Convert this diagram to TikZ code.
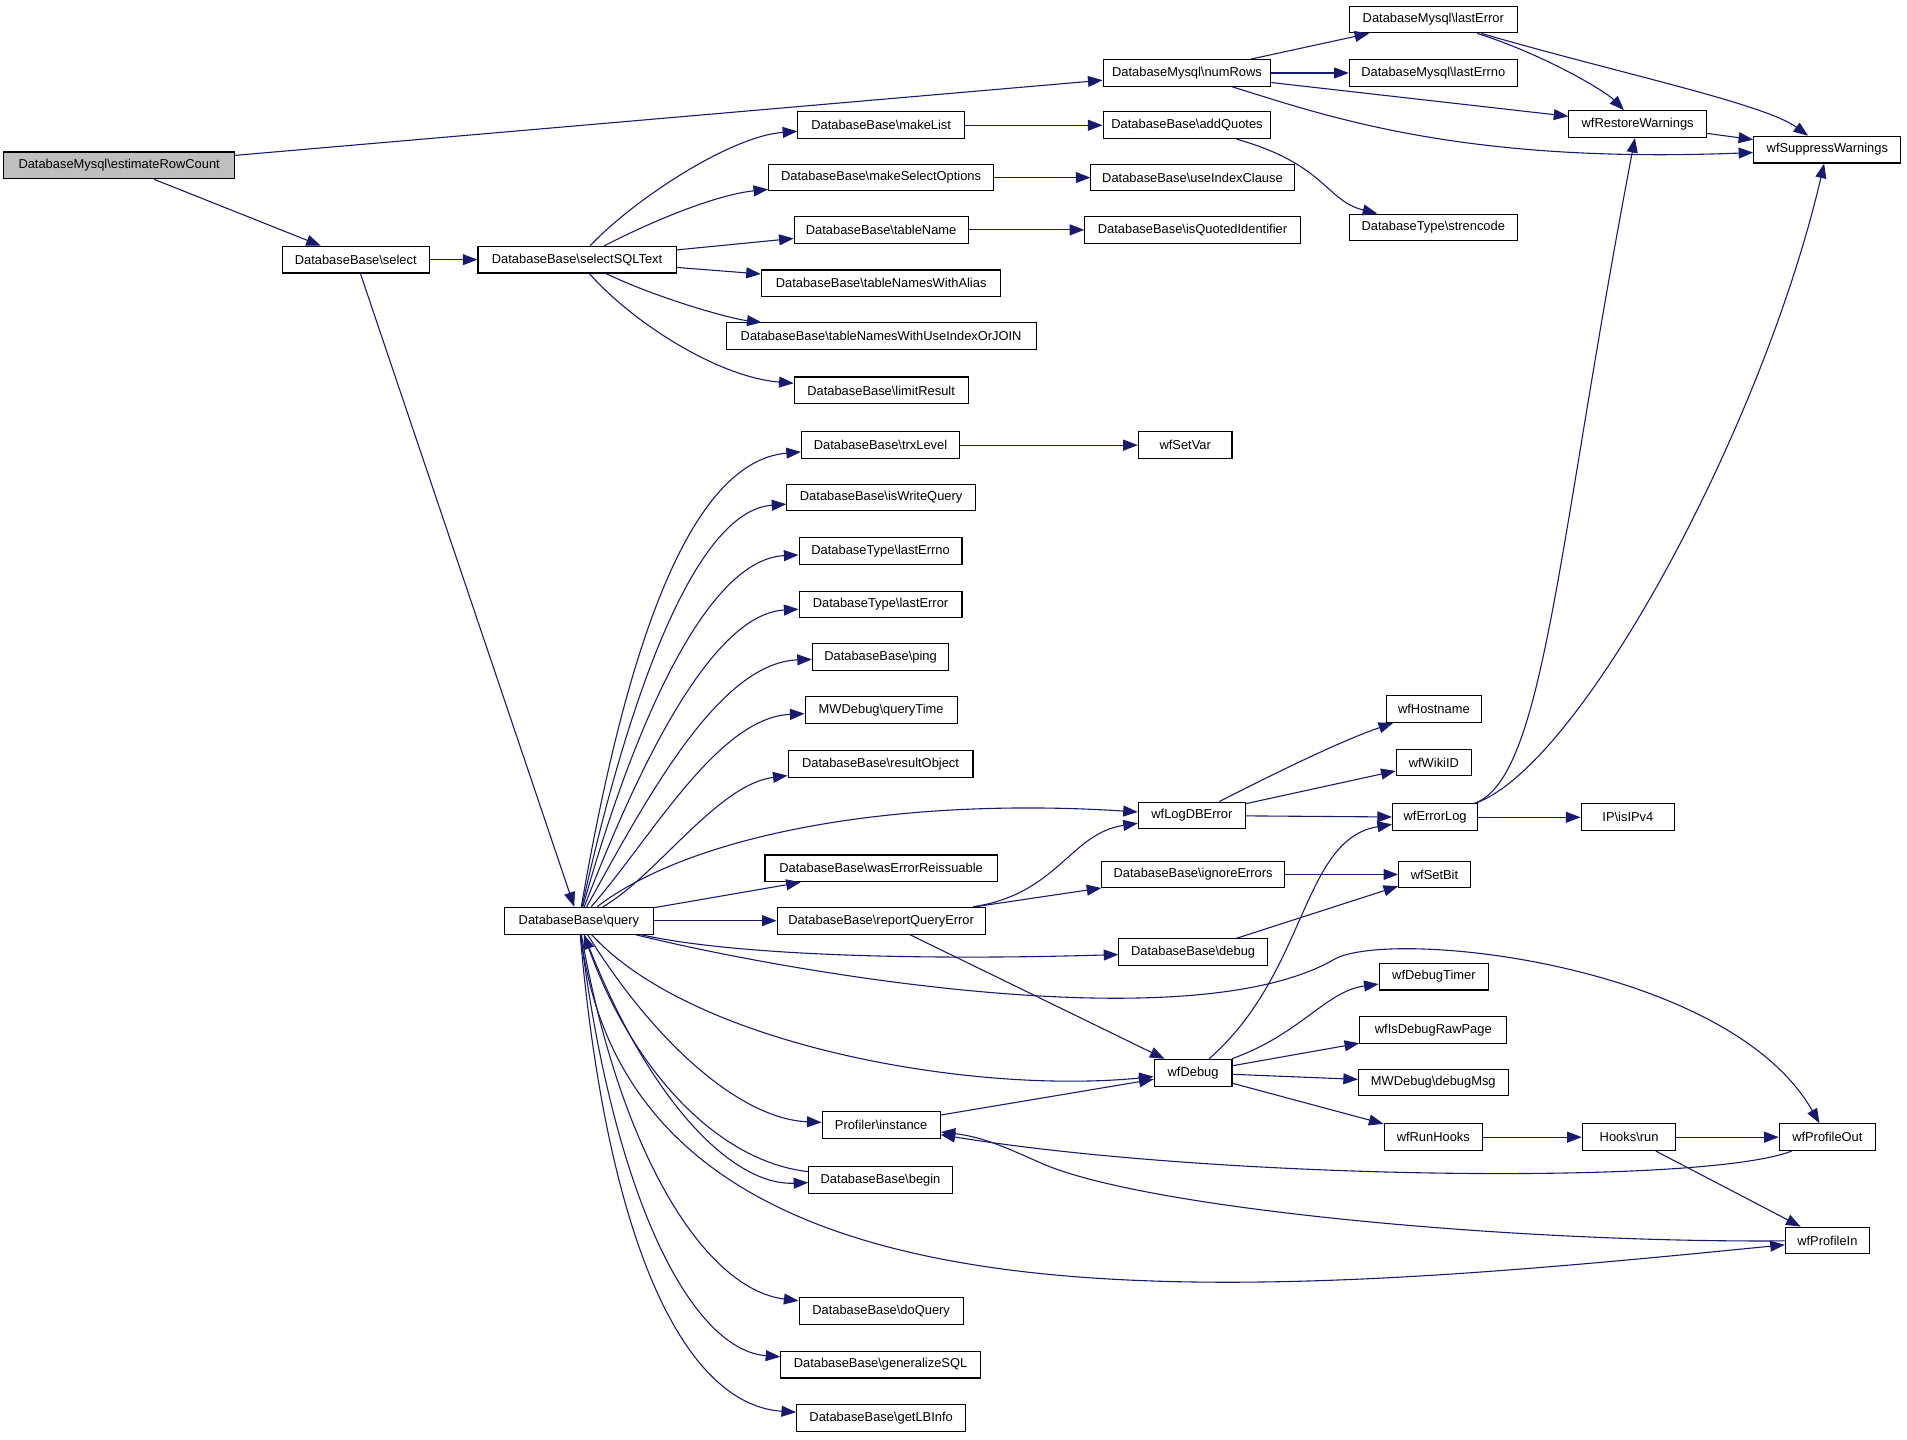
\documentclass[tikz,border=0pt]{standalone}
\usepackage{fontspec}
\setmainfont{Liberation Sans}
\usetikzlibrary{arrows.meta}
\definecolor{edgeblue}{HTML}{191970}
\definecolor{rootgray}{HTML}{BFBFBF}
\tikzset{fn/.style={draw=black,fill=white,line width=0.9pt,minimum height=22pt,inner xsep=2pt,inner ysep=0pt,font=\fontsize{10.6}{12}\selectfont},root/.style={fn,fill=rootgray},call/.style={draw=edgeblue,line width=0.9pt,-{Triangle[length=12pt,width=9pt]}}}
\newcommand{\bsl}{\textbackslash}
\begin{document}
\begin{tikzpicture}[x=1pt,y=-1pt]
\useasboundingbox (0,0) rectangle (1568,1184);
% first column
\node[root,minimum width=190pt] (est) at (98,136) {DatabaseMysql\bsl estimateRowCount};
\node[fn,minimum width=121pt] (sel) at (292.5,213.5) {DatabaseBase\bsl select};
\node[fn,minimum width=163pt] (sqlt) at (474.5,213.5) {DatabaseBase\bsl selectSQLText};
\node[fn,minimum width=122pt] (query) at (476,757) {DatabaseBase\bsl query};
% callees of selectSQLText
\node[fn,minimum width=137pt] (mkl) at (724.5,103) {DatabaseBase\bsl makeList};
\node[fn,minimum width=185pt] (mkso) at (724.5,146) {DatabaseBase\bsl makeSelectOptions};
\node[fn,minimum width=143pt] (tbn) at (724.5,189) {DatabaseBase\bsl tableName};
\node[fn,minimum width=197pt] (tbnwa) at (724.5,233) {DatabaseBase\bsl tableNamesWithAlias};
\node[fn,minimum width=255pt] (tbnui) at (724.5,276.5) {DatabaseBase\bsl tableNamesWithUseIndexOrJOIN};
\node[fn,minimum width=143pt] (lim) at (724.5,321) {DatabaseBase\bsl limitResult};
\node[fn,minimum width=138pt] (numr) at (976,60) {DatabaseMysql\bsl numRows};
\node[fn,minimum width=138pt] (addq) at (976,103) {DatabaseBase\bsl addQuotes};
\node[fn,minimum width=167pt] (uic) at (980.5,146) {DatabaseBase\bsl useIndexClause};
\node[fn,minimum width=177pt] (isq) at (980.5,189) {DatabaseBase\bsl isQuotedIdentifier};
\node[fn,minimum width=138pt] (mlerr) at (1178.5,16) {DatabaseMysql\bsl lastError};
\node[fn,minimum width=138pt] (mlerrno) at (1178.5,60) {DatabaseMysql\bsl lastErrno};
\node[fn,minimum width=138pt] (strenc) at (1178.5,187) {DatabaseType\bsl strencode};
\node[fn,minimum width=113pt] (rw) at (1346.5,102) {wfRestoreWarnings};
\node[fn,minimum width=121pt] (sw) at (1502.5,123) {wfSuppressWarnings};
% callees of query
\node[fn,minimum width=130pt] (trx) at (724,366) {DatabaseBase\bsl trxLevel};
\node[fn,minimum width=155pt] (iswq) at (724.5,409) {DatabaseBase\bsl isWriteQuery};
\node[fn,minimum width=134pt] (dterrno) at (724,453) {DatabaseType\bsl lastErrno};
\node[fn,minimum width=134pt] (dterr) at (724,497) {DatabaseType\bsl lastError};
\node[fn,minimum width=112pt] (ping) at (724,540) {DatabaseBase\bsl ping};
\node[fn,minimum width=125pt] (qtime) at (724.5,584) {MWDebug\bsl queryTime};
\node[fn,minimum width=152pt] (resobj) at (724,628) {DatabaseBase\bsl resultObject};
\node[fn,minimum width=191pt] (wasr) at (724.5,714) {DatabaseBase\bsl wasErrorReissuable};
\node[fn,minimum width=171pt] (rqe) at (724.5,757) {DatabaseBase\bsl reportQueryError};
\node[fn,minimum width=97pt] (inst) at (724.5,925) {Profiler\bsl instance};
\node[fn,minimum width=118pt] (begin) at (724,970) {DatabaseBase\bsl begin};
\node[fn,minimum width=135pt] (doq) at (724.5,1078) {DatabaseBase\bsl doQuery};
\node[fn,minimum width=164pt] (gensql) at (724,1122) {DatabaseBase\bsl generalizeSQL};
\node[fn,minimum width=139pt] (lbinfo) at (724.5,1166) {DatabaseBase\bsl getLBInfo};
\node[fn,minimum width=77pt] (setvar) at (974.5,366) {wfSetVar};
\node[fn,minimum width=88pt] (logdb) at (980,670.5) {wfLogDBError};
\node[fn,minimum width=150pt] (ignerr) at (981,719) {DatabaseBase\bsl ignoreErrors};
\node[fn,minimum width=122pt] (dbg) at (981,783) {DatabaseBase\bsl debug};
\node[fn,minimum width=64pt] (wfdebug) at (981,882) {wfDebug};
% right part
\node[fn,minimum width=78pt] (host) at (1179,583) {wfHostname};
\node[fn,minimum width=62pt] (wiki) at (1179,627) {wfWikiID};
\node[fn,minimum width=70pt] (errlog) at (1180,672) {wfErrorLog};
\node[fn,minimum width=77pt] (ipv4) at (1338.5,672) {IP\bsl isIPv4};
\node[fn,minimum width=59pt] (setbit) at (1179.5,719) {wfSetBit};
\node[fn,minimum width=90pt] (dtimer) at (1179,803) {wfDebugTimer};
\node[fn,minimum width=121pt] (rawpage) at (1178.5,847) {wfIsDebugRawPage};
\node[fn,minimum width=123pt] (dmsg) at (1178.5,890) {MWDebug\bsl debugMsg};
\node[fn,minimum width=81pt] (runhooks) at (1178.5,935) {wfRunHooks};
\node[fn,minimum width=77pt] (hooks) at (1339.5,935) {Hooks\bsl run};
\node[fn,minimum width=79pt] (pout) at (1502.5,935) {wfProfileOut};
\node[fn,minimum width=69pt] (pin) at (1502.5,1020) {wfProfileIn};
% calls
\draw[call] (est) -- (numr);
\draw[call] (est) -- (sel);
\draw[call] (sel) -- (sqlt);
\draw[call] (sel) -- (query);
\draw[call] (sqlt) .. controls (520,165) and (600,112) .. (mkl);
\draw[call] (sqlt) .. controls (540,180) and (590,160) .. (mkso);
\draw[call] (sqlt) -- (tbn);
\draw[call] (sqlt) -- (tbnwa);
\draw[call] (sqlt) .. controls (540,245) and (600,262) .. (tbnui);
\draw[call] (sqlt) .. controls (520,265) and (590,310) .. (lim);
\draw[call] (mkl) -- (addq);
\draw[call] (mkso) -- (uic);
\draw[call] (tbn) -- (isq);
\draw[call] (addq) .. controls (1090,135) and (1090,165) .. (strenc);
\draw[call] (numr) -- (mlerr);
\draw[call] (numr) -- (mlerrno);
\draw[call] (numr) -- (rw);
\draw[call] (numr) .. controls (1090,95) and (1200,135) .. (sw);
\draw[call] (mlerr) .. controls (1270,45) and (1320,75) .. (rw);
\draw[call] (mlerr) .. controls (1330,60) and (1450,85) .. (sw);
\draw[call] (rw) -- (sw);
\draw[call] (query) .. controls (510,560) and (560,380) .. (trx);
\draw[call] (query) .. controls (515,580) and (570,420) .. (iswq);
\draw[call] (query) .. controls (520,600) and (580,460) .. (dterrno);
\draw[call] (query) .. controls (525,630) and (585,505) .. (dterr);
\draw[call] (query) .. controls (530,660) and (590,545) .. (ping);
\draw[call] (query) .. controls (535,690) and (590,590) .. (qtime);
\draw[call] (query) .. controls (540,720) and (590,645) .. (resobj);
\draw[call] (query) .. controls (570,685) and (740,655) .. (logdb);
\draw[call] (query) -- (wasr);
\draw[call] (query) -- (rqe);
\draw[call] (query) .. controls (600,785) and (750,790) .. (dbg);
\draw[call] (query) .. controls (650,800) and (975,856) .. (1095,790) .. controls (1135,762) and (1420,790) .. (pout);
\draw[call] (query) .. controls (570,860) and (800,900) .. (wfdebug);
\draw[call] (query) .. controls (540,860) and (610,920) .. (inst);
\draw[call] (query) .. controls (530,900) and (600,975) .. (begin);
\draw[call] (begin) .. controls (590,955) and (520,880) .. (query);
\draw[call] (query) .. controls (520,1110) and (1000,1070) .. (pin);
\draw[call] (query) .. controls (510,950) and (580,1060) .. (doq);
\draw[call] (query) .. controls (505,990) and (570,1110) .. (gensql);
\draw[call] (query) .. controls (500,1030) and (565,1155) .. (lbinfo);
\draw[call] (trx) -- (setvar);
\draw[call] (rqe) .. controls (870,735) and (880,685) .. (logdb);
\draw[call] (rqe) -- (ignerr);
\draw[call] (rqe) -- (wfdebug);
\draw[call] (logdb) .. controls (1040,640) and (1100,610) .. (host);
\draw[call] (logdb) -- (wiki);
\draw[call] (logdb) -- (errlog);
\draw[call] (errlog) -- (ipv4);
\draw[call] (errlog) .. controls (1270,640) and (1280,450) .. (rw);
\draw[call] (errlog) .. controls (1300,630) and (1450,350) .. (sw);
\draw[call] (ignerr) -- (setbit);
\draw[call] (dbg) -- (setbit);
\draw[call] (wfdebug) .. controls (1075,800) and (1070,690) .. (errlog);
\draw[call] (wfdebug) .. controls (1070,850) and (1090,815) .. (dtimer);
\draw[call] (wfdebug) -- (rawpage);
\draw[call] (wfdebug) -- (dmsg);
\draw[call] (wfdebug) -- (runhooks);
\draw[call] (inst) -- (wfdebug);
\draw[call] (runhooks) -- (hooks);
\draw[call] (hooks) -- (pout);
\draw[call] (hooks) -- (pin);
\draw[call] (pout) .. controls (1400,975) and (1000,970) .. (inst);
\draw[call] (pin) .. controls (1250,1022) and (950,995) .. (860,958) .. controls (830,945) and (810,935) .. (inst);
\end{tikzpicture}
\end{document}
